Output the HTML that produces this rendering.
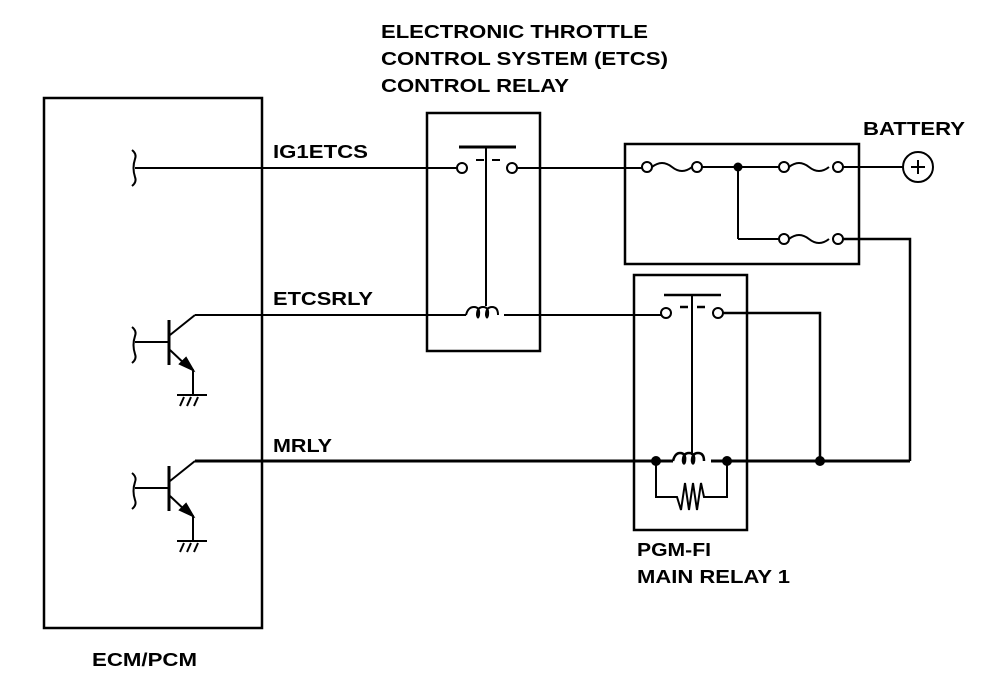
<!DOCTYPE html>
<html><head><meta charset="utf-8"><style>
html,body{margin:0;padding:0;background:#fff;}
svg{display:block;}
text{font-family:"Liberation Sans",Arial,sans-serif;font-weight:bold;font-size:18px;fill:#000;}
</style></head><body>
<svg width="992" height="682" viewBox="0 0 992 682" xmlns="http://www.w3.org/2000/svg">
<g fill="none" stroke="#000" stroke-width="2">
<!-- boxes -->
<rect x="44" y="98" width="218" height="530" stroke-width="2.5"/>
<rect x="427" y="113" width="113" height="238" stroke-width="2.5"/>
<rect x="625" y="144" width="234" height="120" stroke-width="2.5"/>
<rect x="634" y="275" width="113" height="255" stroke-width="2.5"/>

<!-- IG1ETCS wire -->
<path d="M132 150 q5 4 3 9 q-3 9 0 18 q2 5 -3 9"/>
<line x1="135" y1="168" x2="457" y2="168"/>
<circle cx="462" cy="168" r="5"/>
<circle cx="512" cy="168" r="5"/>
<line x1="459" y1="147" x2="516" y2="147" stroke-width="3"/>
<line x1="476" y1="160" x2="484" y2="160"/>
<line x1="492" y1="160" x2="500" y2="160"/>
<line x1="486" y1="147" x2="486" y2="306"/>
<line x1="517" y1="168" x2="642" y2="168"/>

<!-- ETCS relay coil -->
<line x1="195" y1="315" x2="466" y2="315"/>
<path d="M466 315 q2 -8 8 -8 q6 0 5 8 q-1 5 -2 0 q0 -8 6 -8 q6 0 5 8 q-1 5 -2 0 q0 -8 6 -8 q6 0 6 8"/>
<line x1="504" y1="315" x2="661" y2="315"/>

<!-- fuse box -->
<circle cx="647" cy="167" r="5"/>
<path d="M652 167 q10 -8 20 0 q10 8 20 0"/>
<circle cx="697" cy="167" r="5"/>
<line x1="702" y1="167" x2="779" y2="167"/>
<circle cx="784" cy="167" r="5"/>
<path d="M789 167 q10 -8 20 0 q10 8 20 0"/>
<circle cx="838" cy="167" r="5"/>
<line x1="843" y1="167" x2="903" y2="167"/>
<circle cx="918" cy="167" r="15"/>
<line x1="911" y1="167" x2="925" y2="167"/>
<line x1="918" y1="160" x2="918" y2="174"/>
<line x1="738" y1="167" x2="738" y2="239"/>
<line x1="738" y1="239" x2="779" y2="239"/>
<circle cx="784" cy="239" r="5"/>
<path d="M789 239 q10 -8 20 0 q10 8 20 0"/>
<circle cx="838" cy="239" r="5"/>
<polyline points="843,239 910,239 910,461" stroke-width="2.5"/>

<!-- main relay -->
<circle cx="666" cy="313" r="5"/>
<circle cx="718" cy="313" r="5"/>
<line x1="664" y1="295" x2="721" y2="295" stroke-width="2.5"/>
<line x1="680" y1="307" x2="688" y2="307" stroke-width="2.5"/>
<line x1="697" y1="307" x2="705" y2="307" stroke-width="2.5"/>
<line x1="692" y1="295" x2="692" y2="455"/>
<polyline points="723,313 820,313 820,461" stroke-width="2.5"/>
<path d="M673 461 q2 -8 7 -8 q6 0 5 8 q-1 5 -2 0 q0 -8 6 -8 q6 0 5 8 q-1 5 -2 0 q0 -8 6 -8 q6 0 6 8" stroke-width="2.5"/>
<polyline points="656,461 656,497 677,497 681,510 685,483 689,510 693,483 697,510 701,483 704,497 727,497 727,461" stroke-width="2"/>

<!-- MRLY wire -->
<line x1="195" y1="461" x2="673" y2="461" stroke-width="3"/>
<line x1="711" y1="461" x2="910" y2="461" stroke-width="3"/>

<!-- transistors -->
<g id="tr">
<path d="M132 327 q5 4 3 9 q-3 9 0 18 q2 5 -3 9"/>
<line x1="135" y1="342" x2="169" y2="342"/>
<line x1="169" y1="320" x2="169" y2="365" stroke-width="3"/>
<line x1="170" y1="335" x2="195" y2="315"/>
<line x1="170" y1="350" x2="188" y2="367"/>
<polyline points="188,367 193,370 193,395"/>
<line x1="177" y1="395" x2="207" y2="395"/>
<line x1="180" y1="406" x2="184" y2="397"/>
<line x1="187" y1="406" x2="191" y2="397"/>
<line x1="194" y1="406" x2="198" y2="397"/>
</g>
<polygon points="193,370 180,364 186,358" fill="#000"/>
<g transform="translate(0,146)">
<path d="M132 327 q5 4 3 9 q-3 9 0 18 q2 5 -3 9"/>
<line x1="135" y1="342" x2="169" y2="342"/>
<line x1="169" y1="320" x2="169" y2="365" stroke-width="3"/>
<line x1="170" y1="335" x2="195" y2="315"/>
<line x1="170" y1="350" x2="188" y2="367"/>
<polyline points="188,367 193,370 193,395"/>
<line x1="177" y1="395" x2="207" y2="395"/>
<line x1="180" y1="406" x2="184" y2="397"/>
<line x1="187" y1="406" x2="191" y2="397"/>
<line x1="194" y1="406" x2="198" y2="397"/>
<polygon points="193,370 180,364 186,358" fill="#000"/>
</g>
</g>
<!-- dots -->
<g fill="#000">
<circle cx="738" cy="167" r="4.5"/>
<circle cx="656" cy="461" r="5"/>
<circle cx="727" cy="461" r="5"/>
<circle cx="820" cy="461" r="5"/>
</g>
<!-- labels -->
<text x="381" y="38" textLength="267" lengthAdjust="spacingAndGlyphs">ELECTRONIC THROTTLE</text>
<text x="381" y="65" textLength="287" lengthAdjust="spacingAndGlyphs">CONTROL SYSTEM (ETCS)</text>
<text x="381" y="92" textLength="188" lengthAdjust="spacingAndGlyphs">CONTROL RELAY</text>
<text x="273" y="158" textLength="95" lengthAdjust="spacingAndGlyphs">IG1ETCS</text>
<text x="273" y="305" textLength="100" lengthAdjust="spacingAndGlyphs">ETCSRLY</text>
<text x="273" y="452" textLength="59" lengthAdjust="spacingAndGlyphs">MRLY</text>
<text x="863" y="135" textLength="102" lengthAdjust="spacingAndGlyphs">BATTERY</text>
<text x="637" y="556" textLength="74" lengthAdjust="spacingAndGlyphs">PGM-FI</text>
<text x="637" y="583" textLength="153" lengthAdjust="spacingAndGlyphs">MAIN RELAY 1</text>
<text x="92" y="666" textLength="105" lengthAdjust="spacingAndGlyphs">ECM/PCM</text>
</svg>
</body></html>
